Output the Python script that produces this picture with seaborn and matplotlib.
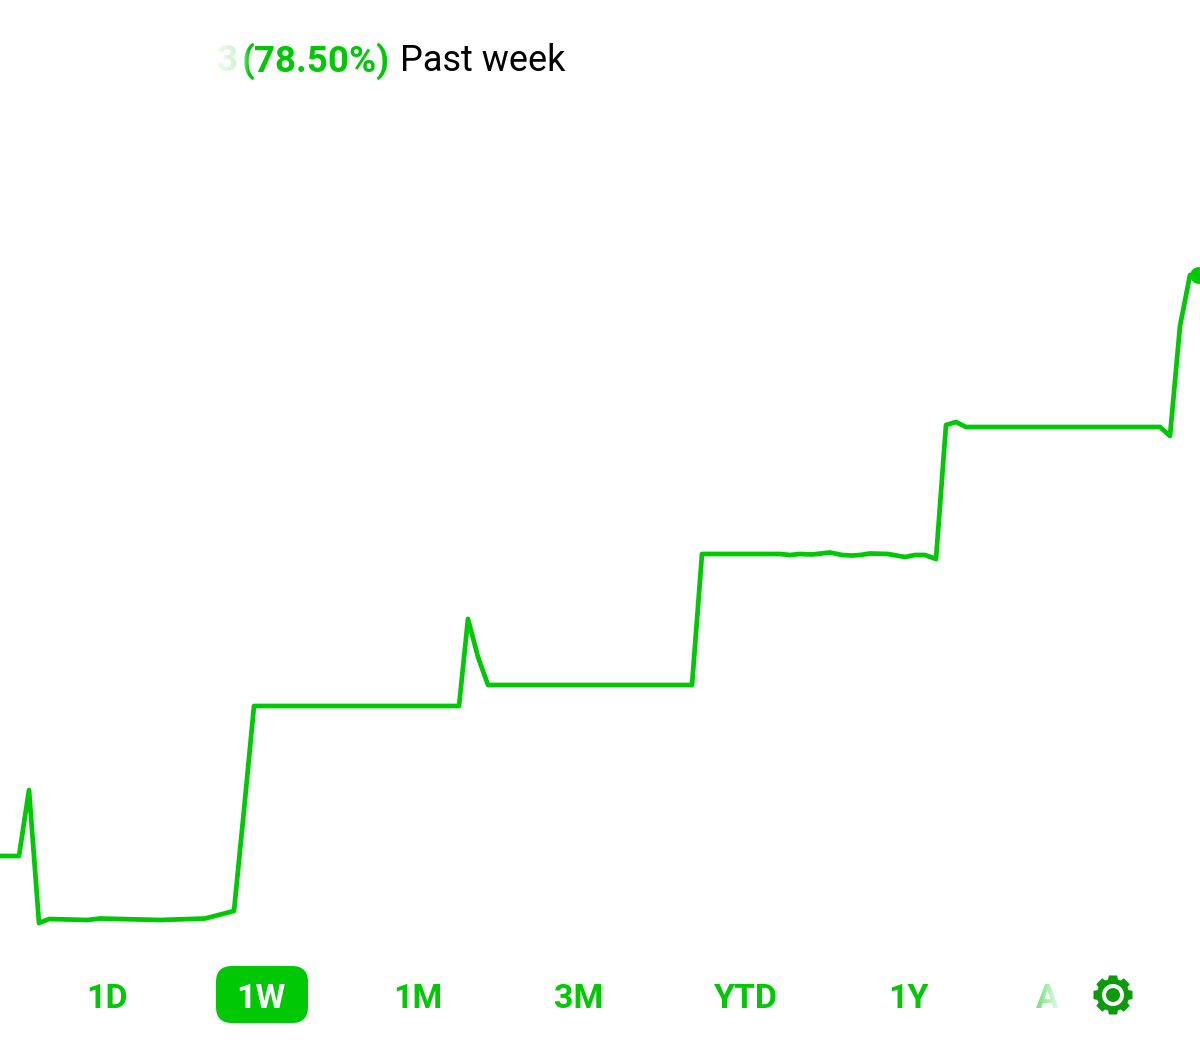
import numpy as np
import pandas as pd
import seaborn as sns
import matplotlib.pyplot as plt
from matplotlib.patches import FancyBboxPatch, Polygon, Circle

# values (screen scale, y grows downwards)
times = [0, 19, 29, 39, 49, 68, 87, 100, 120, 160, 205, 234, 244, 254, 370, 459,
         468, 478, 488, 692, 702, 780, 790, 800, 812, 830, 842, 852, 860, 870,
         888, 905, 915, 925, 936, 946, 956, 966, 1160, 1170, 1180, 1190, 1198]
values = [856, 856, 790, 923, 919, 919.5, 920, 918.5, 919, 920, 918.5, 911, 810, 706, 706, 706,
          619, 657, 685, 685, 554, 554, 555, 554, 554.5, 552.5, 555, 555.5, 555, 553.5,
          554, 557, 555, 555, 559, 425, 422, 427, 427, 436, 326, 275, 275]
range_labels = ["1D", "1W", "1M", "3M", "YTD", "1Y"]
range_centers = [107, 261, 418, 579, 746, 908]
selected = "1W"

GREEN = "#00c805"
GEAR = "#0c9a0c"

sns.set_theme(style="white")
plt.rcParams["font.family"] = ["Roboto", "DejaVu Sans"]

fig = plt.figure(figsize=(12, 10.49), dpi=100)
ax = fig.add_axes([0, 0, 1, 1])

df = pd.DataFrame({"time": times, "value": values})
sns.lineplot(data=df, x="time", y="value", estimator=None, sort=False,
             color=GREEN, linewidth=3.4, ax=ax)
ax.plot(times[-1], values[-1], "o", color=GREEN, ms=11)

# header, the hidden amount fades out to the left
ax.text(242, 57, "(78.50%)", color=GREEN, fontsize=26.5, fontweight="bold", va="center_baseline")
ax.text(400, 57, "Past week", color="black", fontsize=26, va="center_baseline")
ax.text(217, 57, "3", color=GREEN, fontsize=26.5, fontweight="bold", va="center_baseline")
cover = np.ones((1, 64, 4))
cover[..., 3] = np.linspace(1, 0.8, 64)
ax.imshow(cover, extent=(205, 241, 80, 35), aspect="auto", zorder=5)
cover = np.ones((1, 64, 4))
cover[..., 3] = np.linspace(0.8, 0, 64)
ax.imshow(cover, extent=(241, 249, 80, 35), aspect="auto", zorder=5)

# range selector
box = FancyBboxPatch((230, 980), 64, 29, boxstyle="round,pad=14,rounding_size=16",
                     fc=GREEN, ec=GREEN, lw=0)
ax.add_patch(box)
for label, cx in zip(range_labels, range_centers):
    ax.text(cx, 995, label, color="white" if label == selected else GREEN, fontsize=24.5,
            fontweight="bold", ha="center", va="center_baseline")

# faded "A" next to the gear
ax.text(1047, 995, "A", color=GREEN, fontsize=24.5, fontweight="bold", ha="center", va="center_baseline")
cover = np.ones((1, 64, 4))
cover[..., 3] = np.linspace(0.4, 0.95, 64)
ax.imshow(cover, extent=(1034, 1060, 1015, 975), aspect="auto", zorder=5)

# gear icon, eight square teeth
gx, gy = 1113, 995
outline = []
for c in np.arange(8) * np.pi / 4 - np.pi / 2:
    outline += [(16, c - 0.28), (19.5, c - 0.2), (19.5, c + 0.2), (16, c + 0.28)]
r, a = np.array(outline).T
ax.add_patch(Polygon(np.c_[gx + r * np.cos(a), gy + r * np.sin(a)], closed=True,
                     fc=GEAR, ec=GEAR, lw=0.5, zorder=6))
ax.add_patch(Circle((gx, gy), 11, fc="white", ec="none", zorder=7))
ax.add_patch(Circle((gx, gy), 7, fc=GEAR, ec="none", zorder=8))

ax.set_xlim(0, 1200)
ax.set_ylim(1049, 0)
ax.axis("off")

fig.savefig("out.png", dpi=100)
